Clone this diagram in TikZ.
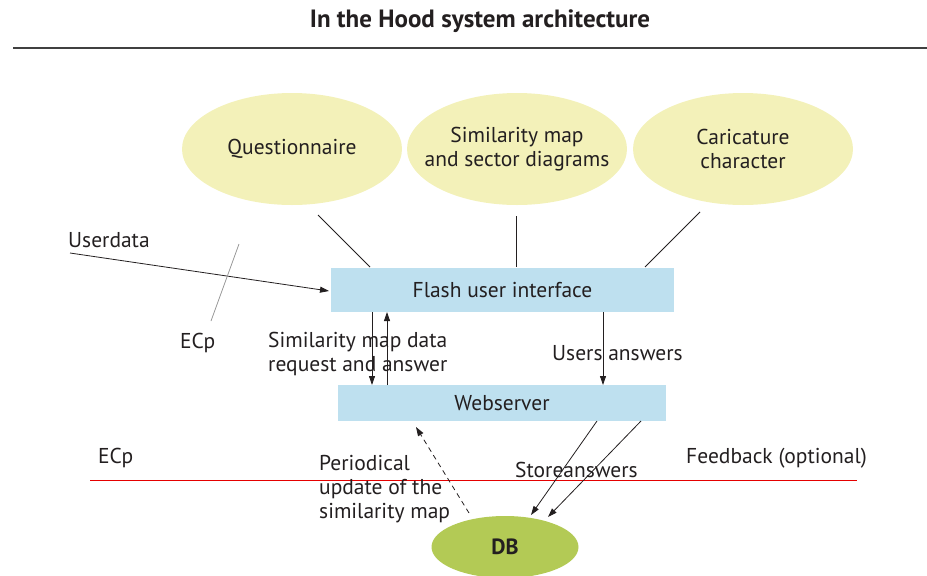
\documentclass[tikz,border=0pt]{standalone}
\usepackage{fontspec}
\setmainfont{PT Sans}
\usetikzlibrary{arrows.meta,shapes.geometric}
\definecolor{ellY}{HTML}{F3F1B9}
\definecolor{boxB}{HTML}{BEE0EF}
\definecolor{dbG}{HTML}{B3CA55}
\definecolor{txt}{HTML}{231F20}
\begin{document}
\begin{tikzpicture}[x=1pt,y=-1pt,
  every node/.style={text=txt,font=\fontsize{21.5}{24}\selectfont},
  blob/.style={ellipse,fill=ellY,minimum width=220pt,minimum height=112pt,inner sep=0pt},
  panel/.style={fill=boxB,inner sep=0pt},
  lbl/.style={align=left,inner sep=0pt},
  conn/.style={line width=0.8pt,draw=txt},
  arr/.style={conn,-{Triangle[length=9pt,width=6pt]}}]
\useasboundingbox (0,0) rectangle (927,576);
\node[font=\bfseries\fontsize{25}{28}\selectfont] (title) at (480,21) {In the Hood system architecture};
\coordinate (r1) at (13,48); \coordinate (r2) at (927,48);
\draw[line width=1.6pt,draw=black!75] (r1) -- (r2);
% ellipses
\node[blob] (q) at (292,149) {};
\node[align=center] (qt) at (q.center) {Questionnaire};
\node[blob] (s) at (517,149) {};
\node[align=center] (st) at (s.center) {Similarity map\\and sector diagrams};
\node[blob] (c) at (743,149) {};
\node[align=center] (ct) at (c.center) {Caricature\\character};
% boxes
\node[panel,minimum width=343pt,minimum height=44pt] (flash) at (502.5,290) {Flash user interface};
\node[panel,minimum width=328pt,minimum height=36pt] (web) at (502,403) {Webserver};
\node[ellipse,fill=dbG,minimum width=147pt,minimum height=62pt,inner sep=0pt,font=\bfseries\fontsize{22}{24}\selectfont] (db) at (505,547) {DB};
% ellipse connectors
\coordinate (q1) at (318,215); \coordinate (q2) at (370,267);
\draw[conn] (q1) -- (q2);
\coordinate (s1) at (516,216); \coordinate (s2) at (516,267);
\draw[conn] (s1) -- (s2);
\coordinate (c1) at (700,212); \coordinate (c2) at (645,267);
\draw[conn] (c1) -- (c2);
% userdata
\node[lbl,anchor=base west] (ud) at (68,247) {Userdata};
\coordinate (u1) at (70,253); \coordinate (u2) at (329,291);
\draw[arr] (u1) -- (u2);
\coordinate (e1) at (239,244); \coordinate (e2) at (211,321);
\draw[line width=0.8pt,draw=gray!80] (e1) -- (e2);
\node[lbl,anchor=base west] (ecp1) at (180,348) {ECp};
% flash <-> web
\coordinate (d1) at (372,312); \coordinate (d2) at (372,385);
\draw[arr] (d1) -- (d2);
\coordinate (w1) at (387,385); \coordinate (w2) at (387,312);
\draw[arr] (w1) -- (w2);
\node[lbl,anchor=base west] (sim) at (268,371) {Similarity map data\\request and answer};
\coordinate (a1) at (603,312); \coordinate (a2) at (603,385);
\draw[arr] (a1) -- (a2);
\node[lbl,anchor=base west] (ua) at (552,360) {Users answers};
% web -> db
\coordinate (b1) at (597,421); \coordinate (b2) at (531,515);
\coordinate (b3) at (641,421); \coordinate (b4) at (548,517);
% red line
\coordinate (rl1) at (90,480); \coordinate (rl2) at (857,480);
\draw[line width=0.8pt,draw=red!90!black] (rl1) -- (rl2);
\node[lbl,anchor=base west] (sa) at (515,477) {Storeanswers};
\draw[arr] (b1) -- (b2);
\draw[arr] (b3) -- (b4);
\coordinate (p1) at (469,513); \coordinate (p2) at (416,427);
\draw[arr,dashed,dash pattern=on 5pt off 4pt] (p1) -- (p2);
\node[lbl,anchor=base west] (per) at (319,518) {Periodical\\update of the\\similarity map};
\node[lbl,anchor=base west] (ecp2) at (98,463) {ECp};
\node[lbl,anchor=base west] (fb) at (686,463) {Feedback (optional)};
\end{tikzpicture}
\end{document}
